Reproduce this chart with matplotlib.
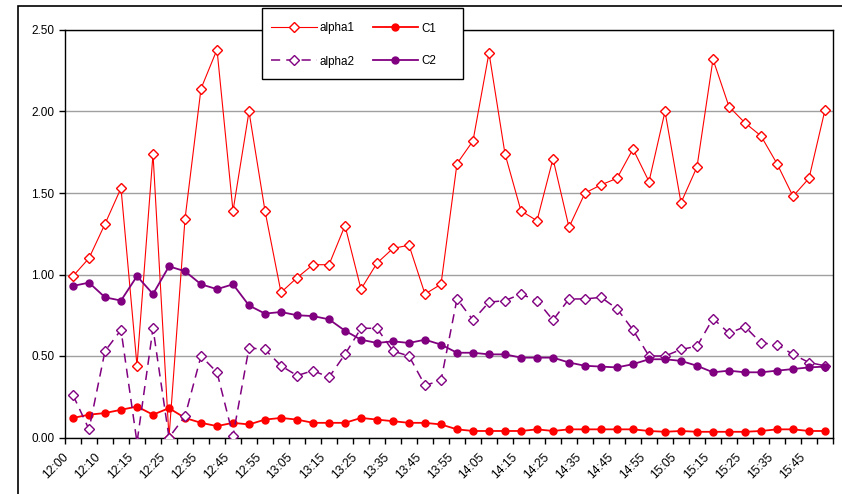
import numpy as np
import matplotlib
matplotlib.use("Agg")
import matplotlib.pyplot as plt
import matplotlib.transforms as mtransforms
from matplotlib.patches import Rectangle

plt.rcParams['font.family'] = ['Liberation Sans', 'DejaVu Sans']

# every second category carries a label (48 categories in total)
tick_labels = ["12:00", "12:10", "12:15", "12:25", "12:35", "12:45", "12:55", "13:05",
               "13:15", "13:25", "13:35", "13:45", "13:55", "14:05", "14:15", "14:25",
               "14:35", "14:45", "14:55", "15:05", "15:15", "15:25", "15:35", "15:45"]

alpha1 = [0.99, 1.10, 1.31, 1.53, 0.44, 1.74, 0.00, 1.34, 2.14, 2.38, 1.39, 2.00,
          1.39, 0.89, 0.98, 1.06, 1.06, 1.30, 0.91, 1.07, 1.16, 1.18, 0.88, 0.94,
          1.68, 1.82, 2.36, 1.74, 1.39, 1.33, 1.71, 1.29, 1.50, 1.55, 1.59, 1.77,
          1.57, 2.00, 1.44, 1.66, 2.32, 2.03, 1.93, 1.85, 1.68, 1.48, 1.59, 2.01]
C1 = [0.12, 0.14, 0.15, 0.17, 0.19, 0.14, 0.18, 0.12, 0.09, 0.07, 0.09, 0.08,
      0.11, 0.12, 0.11, 0.09, 0.09, 0.09, 0.12, 0.11, 0.10, 0.09, 0.09, 0.08,
      0.05, 0.04, 0.04, 0.04, 0.04, 0.05, 0.04, 0.05, 0.05, 0.05, 0.05, 0.05,
      0.04, 0.035, 0.04, 0.035, 0.035, 0.035, 0.035, 0.04, 0.05, 0.05, 0.04, 0.04]
alpha2 = [0.26, 0.05, 0.53, 0.66, -0.03, 0.67, 0.00, 0.13, 0.50, 0.40, 0.01, 0.55,
          0.54, 0.44, 0.38, 0.41, 0.37, 0.51, 0.67, 0.67, 0.53, 0.50, 0.32, 0.35,
          0.85, 0.72, 0.83, 0.84, 0.88, 0.84, 0.72, 0.85, 0.85, 0.86, 0.79, 0.66,
          0.50, 0.50, 0.54, 0.56, 0.73, 0.64, 0.68, 0.58, 0.57, 0.51, 0.46, 0.44]
C2 = [0.93, 0.95, 0.86, 0.84, 0.99, 0.88, 1.05, 1.02, 0.94, 0.91, 0.94, 0.81,
      0.76, 0.77, 0.75, 0.745, 0.725, 0.655, 0.60, 0.58, 0.59, 0.58, 0.60, 0.57,
      0.52, 0.52, 0.51, 0.51, 0.49, 0.49, 0.49, 0.46, 0.44, 0.435, 0.43, 0.45,
      0.48, 0.48, 0.47, 0.44, 0.40, 0.41, 0.40, 0.40, 0.41, 0.42, 0.43, 0.435]

RED = "#ff0000"
PURPLE = "#800080"
W, H = 842, 494

x = np.arange(len(alpha1))

fig = plt.figure(figsize=(W / 100, H / 100), dpi=100)
ax = fig.add_axes([65 / W, 1 - 437.5 / H, 768 / W, 407.5 / H])

# outer chart border
fig.patches.append(Rectangle((18 / W, -0.1), 1.2, 1.1 - 6.5 / H, transform=fig.transFigure,
                             fill=False, edgecolor="black", linewidth=1.2, zorder=-1))

l_a1, = ax.plot(x, alpha1, color=RED, lw=0.8, marker="D", ms=4.8, mfc="white",
                mec=RED, mew=1, label="alpha1", zorder=3)
l_c1, = ax.plot(x, C1, color=RED, lw=1.3, marker="o", ms=5, mfc=RED, mec=RED,
                label="C1", zorder=4)
l_a2, = ax.plot(x, alpha2, color=PURPLE, lw=1.1, ls=(0, (6, 4)), marker="D", ms=4.8,
                mfc="white", mec=PURPLE, mew=1, label="alpha2", zorder=5)
l_c2, = ax.plot(x, C2, color=PURPLE, lw=1.3, marker="o", ms=5, mfc=PURPLE, mec=PURPLE,
                label="C2", zorder=6)

ax.set_xlim(-0.5, len(x) - 0.5)
ax.set_ylim(0, 2.5)
yt = np.arange(0, 2.51, 0.5)
ax.set_yticks(yt)
ax.set_yticklabels([f"{v:.2f}" for v in yt])
ax.yaxis.grid(True, color="#a0a0a0", lw=1)
ax.set_axisbelow(True)

# tick marks between categories, labels on the categories
ax.set_xticks(np.arange(-0.5, len(x), 1))
ax.set_xticklabels([])
ax.set_xticks(x[::2], minor=True)
ax.set_xticklabels(tick_labels, minor=True, rotation=45, ha="right", va="center",
                   rotation_mode="anchor")
ax.tick_params(axis="x", which="major", length=4, direction="out", width=1)
ax.tick_params(axis="x", which="minor", length=0, pad=13, labelsize=8.7)
ax.tick_params(axis="y", length=4, direction="out", width=1, labelsize=8.5)
shift = mtransforms.ScaledTranslation(-0.06, 0, fig.dpi_scale_trans)
for lab in ax.get_xticklabels(minor=True):
    lab.set_transform(lab.get_transform() + shift)

for s in ax.spines.values():
    s.set_color("black")
    s.set_linewidth(1)

# legend box drawn separately so its size matches the original
fig.patches.append(Rectangle((262 / W, 1 - 79 / H), 201 / W, 71 / H, transform=fig.transFigure,
                             facecolor="white", edgecolor="black", linewidth=1, zorder=4))
leg = fig.legend([l_a1, l_a2, l_c1, l_c2], ["alpha1", "alpha2", "C1", "C2"],
                 ncol=2, loc="upper left", bbox_to_anchor=(271 / W, 1 - 22.5 / H),
                 fontsize=8.4, frameon=False, handlelength=3.9, labelspacing=1.8,
                 columnspacing=1.5, borderpad=0, borderaxespad=0, handletextpad=0.3)
leg.set_zorder(5)

fig.savefig("out.png", dpi=100)
